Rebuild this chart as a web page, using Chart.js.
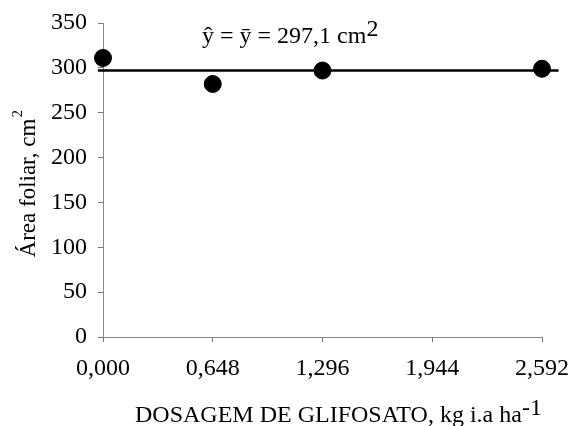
<!DOCTYPE html>
<html>
<head>
<meta charset="utf-8">
<script src="https://cdn.jsdelivr.net/npm/chart.js@4"></script>
<style>
  html, body { margin: 0; padding: 0; background: #fff; }
  canvas { display: block; }
</style>
</head>
<body>
<canvas id="areaChart" width="572" height="426"></canvas>
<script>
const doses = [0, 0.648, 1.296, 2.592];
const areaFoliar = [311, 282, 297, 299];
const xTicks = [0, 0.648, 1.296, 1.944, 2.592];
const yTicks = [0, 50, 100, 150, 200, 250, 300, 350];
const media = 297.1;
const mediaX = [-0.03, 2.69];

const fonte = "Liberation Serif";

// titulos e equacao desenhados a mao por causa dos sobrescritos
const textos = {
    id: "textos",
    afterDraw(chart) {
        const c = chart.ctx;
        c.save();
        c.fillStyle = "#000";
        c.textBaseline = "alphabetic";

        // equacao
        c.font = "24px " + fonte;
        c.textAlign = "left";
        let t = "\u0177 = \u0233 = 297,1 cm";
        c.fillText(t, 202, 43);
        let w = c.measureText(t).width;
        c.fillText("2", 202 + w, 36);

        // eixo x
        t = "DOSAGEM DE GLIFOSATO, kg i.a ha";
        w = c.measureText(t).width;
        c.fillText(t, 135, 422);
        c.fillText("-1", 135 + w, 415);

        // eixo y
        c.translate(35, 188);
        c.rotate(-Math.PI / 2);
        c.font = "23px " + fonte;
        c.textAlign = "center";
        t = "\u00c1rea foliar, cm";
        w = c.measureText(t).width;
        c.fillText(t, 0, 0);
        c.textAlign = "left";
        c.font = "15px " + fonte;
        c.fillText("2", w / 2 + 1, -13);
        c.restore();
    }
};

const ctx = document.getElementById("areaChart");

new Chart(ctx, {
    type: "scatter",
    data: {
        datasets: [{
            data: doses.map((d, i) => ({ x: d, y: areaFoliar[i] })),
            backgroundColor: "#000",
            borderColor: "#000",
            pointRadius: 8.5,
            pointHoverRadius: 8.5,
            clip: false
        }, {
            type: "line",
            data: mediaX.map(x => ({ x: x, y: media })),
            borderColor: "#000",
            borderWidth: 2.5,
            pointRadius: 0,
            fill: false,
            clip: false
        }]
    },
    options: {
        responsive: false,
        animation: false,
        layout: {
            padding: { left: 0, right: 30, top: 23, bottom: 0 }
        },
        plugins: {
            legend: { display: false },
            tooltip: { enabled: false }
        },
        scales: {
            x: {
                type: "linear",
                min: 0,
                max: 2.592,
                afterBuildTicks: (scale) => {
                    scale.ticks = xTicks.map(v => ({ value: v }));
                },
                afterFit: (scale) => {
                    scale.height = 89;
                    scale.paddingLeft = 0;
                    scale.paddingRight = 0;
                },
                grid: { drawOnChartArea: false, tickLength: 5, color: "#777" },
                border: { color: "#888" },
                ticks: {
                    color: "#000",
                    padding: 12,
                    maxRotation: 0,
                    font: { family: fonte, size: 24 },
                    callback: (v) => v.toFixed(3).replace(".", ",")
                }
            },
            y: {
                min: 0,
                max: 350,
                afterBuildTicks: (scale) => {
                    scale.ticks = yTicks.map(v => ({ value: v }));
                },
                afterFit: (scale) => {
                    scale.width = 103;
                    scale.paddingTop = 0;
                    scale.paddingBottom = 0;
                },
                grid: { drawOnChartArea: false, tickLength: 5, color: "#777" },
                border: { color: "#888" },
                ticks: {
                    color: "#000",
                    padding: 11,
                    font: { family: fonte, size: 24 }
                }
            }
        }
    },
    plugins: [textos]
});
</script>
</body>
</html>
